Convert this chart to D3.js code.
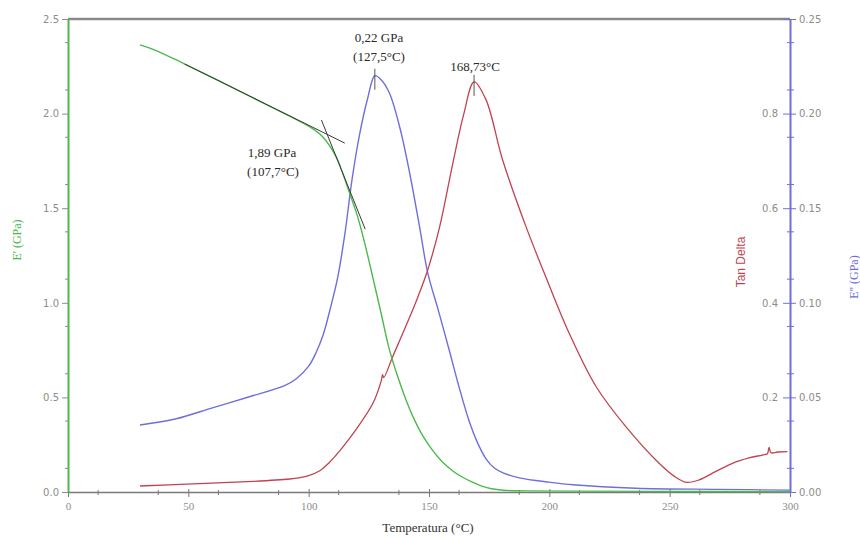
<!DOCTYPE html>
<html>
<head>
<meta charset="utf-8">
<script src="https://cdn.jsdelivr.net/npm/d3@7/dist/d3.min.js"></script>
<style>
  html, body { margin: 0; padding: 0; background: #fff; }
  svg { display: block; }
</style>
</head>
<body>
<svg id="chart" width="860" height="539"></svg>
<script>
// Storage modulus E' (GPa) versus temperature (°C)
const storageTemp    = [29.9, 36.1, 48.5, 62, 75.5, 92.1, 100, 105.8, 111.5, 114, 117, 120, 123, 126, 130, 133.6, 137, 140.5, 144, 147.5, 151.5, 155.5, 160, 164, 168, 172, 176, 181, 190, 210, 250, 300];
const storageModulus = [2.363, 2.336, 2.262, 2.178, 2.092, 1.986, 1.934, 1.878, 1.77, 1.69, 1.58, 1.47, 1.33, 1.17, 0.95, 0.75, 0.61, 0.485, 0.38, 0.295, 0.22, 0.16, 0.11, 0.078, 0.052, 0.031, 0.017, 0.009, 0.006, 0.0045, 0.003, 0.002];

// Loss modulus E'' (GPa)
const lossTemp    = [29.9, 45, 60, 75, 90, 95, 100, 103, 106, 109, 112, 115, 118, 121, 124.5, 127.5, 130, 133.5, 138, 141.9, 146.1, 149.5, 154, 158.5, 162.5, 166.8, 170, 173.7, 177, 181, 187.6, 200, 210, 236, 270, 300];
const lossModulus = [0.0354, 0.0387, 0.0445, 0.0502, 0.0562, 0.060, 0.0665, 0.0735, 0.083, 0.097, 0.113, 0.136, 0.165, 0.188, 0.208, 0.22, 0.218, 0.211, 0.192, 0.169, 0.140, 0.1157, 0.0955, 0.0745, 0.0555, 0.037, 0.0265, 0.0175, 0.0128, 0.0100, 0.0075, 0.0052, 0.0038, 0.002, 0.0014, 0.001];

// Loss factor tan delta
const tanTemp  = [29.9, 49.3, 76.9, 92.1, 96, 100, 104.6, 108.5, 112.9, 116, 119.8, 126.7, 130.2, 130.7, 131.2, 134.9, 141.5, 145.5, 149.5, 154.4, 159.9, 164.5, 168.73, 173.7, 180.6, 190.3, 199.3, 208.3, 219.4, 231.8, 245.6, 252, 257, 262.2, 269, 276.1, 283, 288.5, 290.6, 291.3, 292.1, 295, 298.9];
const tanDelta = [0.0127, 0.0165, 0.0225, 0.0275, 0.030, 0.0345, 0.045, 0.062, 0.087, 0.107, 0.133, 0.1875, 0.236, 0.248, 0.242, 0.286, 0.364, 0.414, 0.47, 0.56, 0.695, 0.8, 0.867, 0.829, 0.702, 0.561, 0.445, 0.335, 0.223, 0.1381, 0.0607, 0.033, 0.0205, 0.0254, 0.043, 0.0607, 0.072, 0.0782, 0.081, 0.0945, 0.083, 0.0846, 0.0852];

// Axis ticks
const xTicks    = [0, 50, 100, 150, 200, 250, 300];
const leftTicks = [0, 0.5, 1.0, 1.5, 2.0, 2.5];
const tanTicks  = [0.2, 0.4, 0.6, 0.8];
const lossTicks = [0, 0.05, 0.10, 0.15, 0.20, 0.25];

// Onset of E' from two tangents (temperature, modulus)
const onsetTemp = 107.7, onsetModulus = 1.89;
const glassyTangentTemp = [48.5, 115];
const dropTangentTemp   = [105.3, 123.5];
const glassySlope = -0.006284, dropSlope = -0.0317;

// Peaks
const lossPeak = {t: 127.5, v: 0.22};
const tanPeak  = {t: 168.73, v: 0.867};

const svg = d3.select("#chart");
const plot = {left: 68, right: 790, top: 19, bottom: 492};

const x = d3.scaleLinear().domain([0, 300]).range([plot.left, plot.right]);
const yStorage = d3.scaleLinear().domain([0, 2.5]).range([plot.bottom, plot.top]);
const yTan = d3.scaleLinear().domain([0, 1.0]).range([plot.bottom, plot.top]);
const yLoss = d3.scaleLinear().domain([0, 0.25]).range([plot.bottom, plot.top]);

const green = "#4cb94c", blue = "#6f6fdc", red = "#c2434f";
const tickGrey = "#8c8c8c";

// Top frame line
svg.append("line")
  .attr("x1", plot.left).attr("x2", plot.right).attr("y1", plot.top).attr("y2", plot.top)
  .attr("stroke", "#8a8a8a").attr("stroke-width", 2.5);

// Bottom axis
const xAxis = svg.append("g").attr("transform", `translate(0,${plot.bottom})`)
  .call(d3.axisBottom(x).tickValues(xTicks).tickFormat(d3.format("d")).tickSize(5).tickSizeOuter(0));
xAxis.select(".domain").attr("stroke", "#7a7a7a").attr("stroke-width", 1.5);
xAxis.selectAll(".tick line").attr("stroke", "#7a7a7a").attr("y1", -3);
xAxis.selectAll(".tick text").attr("fill", tickGrey)
  .attr("font-family", "Liberation Serif").attr("font-size", 11).attr("dy", "0.9em");
svg.append("g").attr("transform", `translate(0,${plot.bottom})`)
  .selectAll("line").data(d3.range(12.5, 300, 25)).join("line")
  .attr("x1", d => x(d)).attr("x2", d => x(d)).attr("y1", -2).attr("y2", 3)
  .attr("stroke", "#7a7a7a");

// Left axis: E'
const yAxisL = svg.append("g").attr("transform", `translate(${plot.left},0)`)
  .call(d3.axisLeft(yStorage).tickValues(leftTicks).tickFormat(d3.format(".1f")).tickSize(6).tickSizeOuter(0));
yAxisL.select(".domain").attr("stroke", green).attr("stroke-width", 2);
yAxisL.selectAll(".tick line").attr("stroke", tickGrey);
yAxisL.selectAll(".tick text").attr("fill", tickGrey)
  .attr("font-family", "DejaVu Sans").attr("font-size", 10);
svg.append("g").attr("transform", `translate(${plot.left},0)`)
  .selectAll("line").data(d3.range(0.125, 2.5, 0.25)).join("line")
  .attr("x1", -3).attr("x2", 0).attr("y1", d => yStorage(d)).attr("y2", d => yStorage(d))
  .attr("stroke", tickGrey);

// Right axis: tan delta labels on the inside, E'' labels on the outside
const yAxisR = svg.append("g").attr("transform", `translate(${plot.right},0)`)
  .call(d3.axisRight(yLoss).tickValues(lossTicks).tickFormat(d3.format(".2f")).tickSize(6).tickSizeOuter(0));
yAxisR.select(".domain").attr("stroke", blue).attr("stroke-width", 2);
yAxisR.selectAll(".tick line").attr("stroke", blue).attr("x1", -7);
yAxisR.selectAll(".tick text").attr("fill", tickGrey)
  .attr("font-family", "DejaVu Sans").attr("font-size", 10);
svg.append("g").attr("transform", `translate(${plot.right},0)`)
  .selectAll("line").data(d3.range(0.0125, 0.25, 0.025)).join("line")
  .attr("x1", -3).attr("x2", 4).attr("y1", d => yLoss(d)).attr("y2", d => yLoss(d))
  .attr("stroke", blue);
const tanAxis = svg.append("g").attr("transform", `translate(${plot.right - 7},0)`)
  .call(d3.axisLeft(yTan).tickValues(tanTicks).tickFormat(d3.format(".1f")).tickSize(0).tickSizeOuter(0));
tanAxis.select(".domain").remove();
tanAxis.selectAll(".tick text").attr("fill", tickGrey)
  .attr("font-family", "DejaVu Sans").attr("font-size", 10).attr("dx", "-2");

// Axis titles
svg.append("text").attr("transform", "translate(21,240) rotate(-90)")
  .attr("text-anchor", "middle").attr("fill", green)
  .attr("font-family", "Liberation Serif").attr("font-size", 12).text("E' (GPa)");
svg.append("text").attr("transform", "translate(745,262) rotate(-90)")
  .attr("text-anchor", "middle").attr("fill", red)
  .attr("font-family", "Liberation Sans").attr("font-size", 12).text("Tan Delta");
svg.append("text").attr("transform", "translate(858,277) rotate(-90)")
  .attr("text-anchor", "middle").attr("fill", blue)
  .attr("font-family", "Liberation Serif").attr("font-size", 12).text("E'' (GPa)");
svg.append("text").attr("x", 428).attr("y", 532)
  .attr("text-anchor", "middle").attr("fill", "#333")
  .attr("font-family", "Liberation Serif").attr("font-size", 13).text("Temperatura (°C)");

// Curves
const curve = (ts, vs, yScale) => d3.line()
  .x((d, i) => x(ts[i])).y((d, i) => yScale(vs[i]))
  .curve(d3.curveCatmullRom.alpha(0.5))(vs);

svg.append("path").attr("d", curve(lossTemp, lossModulus, yLoss))
  .attr("fill", "none").attr("stroke", blue).attr("stroke-width", 1.4);
svg.append("path").attr("d", curve(tanTemp, tanDelta, yTan))
  .attr("fill", "none").attr("stroke", red).attr("stroke-width", 1.3);
svg.append("path").attr("d", curve(storageTemp, storageModulus, yStorage))
  .attr("fill", "none").attr("stroke", green).attr("stroke-width", 1.4);

// Onset tangents
const tangent = (ts, slope) => ts.map(t => [x(t), yStorage(onsetModulus + slope * (t - onsetTemp))]);
[[glassyTangentTemp, glassySlope], [dropTangentTemp, dropSlope]].forEach(([ts, s]) => {
  svg.append("path").attr("d", d3.line()(tangent(ts, s)))
    .attr("fill", "none").attr("stroke", "#3a3a3a").attr("stroke-width", 1);
});

// Peak markers
[[lossPeak, yLoss], [tanPeak, yTan]].forEach(([p, ys]) => {
  svg.append("line")
    .attr("x1", x(p.t)).attr("x2", x(p.t))
    .attr("y1", ys(p.v) - 7).attr("y2", ys(p.v) + 14)
    .attr("stroke", "#444").attr("stroke-width", 0.9);
});

// Annotations
const note = (tx, ty, s) => svg.append("text").attr("x", tx).attr("y", ty)
  .attr("text-anchor", "middle").attr("fill", "#2a2a2a")
  .attr("font-family", "Liberation Serif").attr("font-size", 13).text(s);
note(379, 42, "0,22 GPa");
note(379, 61, "(127,5°C)");
note(475, 71, "168,73°C");
note(272, 157, "1,89 GPa");
note(273, 176, "(107,7°C)");
</script>
</body>
</html>
